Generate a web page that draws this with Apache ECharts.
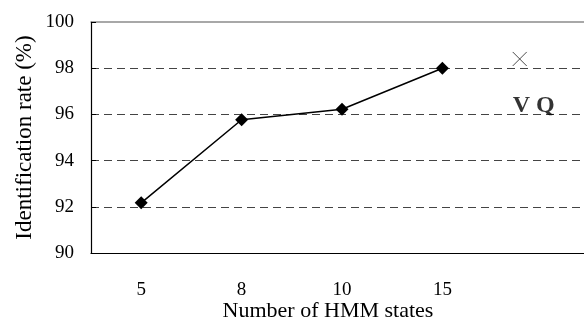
<!DOCTYPE html>
<html>
<head>
<meta charset="utf-8">
<script src="https://cdn.jsdelivr.net/npm/echarts@6/dist/echarts.min.js"></script>
<style>html,body{margin:0;padding:0;background:#fff;}#c{width:584px;height:322px;}</style>
</head>
<body>
<div id="c"></div>
<script>
const categories = ['5', '8', '10', '15', ''];
const rates = [92.17, 95.77, 96.22, 98.0];
const vqPosition = [4.27];
const vqRate = [98.4];
const vqLabel = 'V Q';
const yTicks = [90, 92, 94, 96, 98, 100];

const font = 'Liberation Serif';
const chart = echarts.init(document.getElementById('c'), null, {renderer: 'canvas'});
chart.setOption({
  backgroundColor: '#fff',
  animation: false,
  grid: {left: 91, right: -9, top: 22, bottom: 69, outerBoundsMode: 'none', containLabel: false},
  xAxis: [
    {
      type: 'category', data: categories, boundaryGap: true,
      name: 'Number of HMM states', nameLocation: 'middle', nameGap: 47, nameMoveOverlap: false,
      nameTextStyle: {fontFamily: font, fontSize: 22, color: '#000', padding: [0, 28, 0, 0]},
      axisLine: {lineStyle: {color: '#000', width: 1.2}},
      axisTick: {inside: true, length: 6, lineStyle: {color: '#000'}},
      axisLabel: {fontFamily: font, fontSize: 19, color: '#000', margin: 28},
      splitLine: {show: false}
    },
    {
      type: 'value', min: 0, max: 5, show: false
    },
    {
      type: 'category', data: categories, position: 'top',
      axisLine: {lineStyle: {color: '#8c8c8c', width: 1.5}},
      axisTick: {show: false}, axisLabel: {show: false}
    }
  ],
  yAxis: {
    type: 'value', min: yTicks[0], max: yTicks[yTicks.length - 1], interval: 2,
    name: 'Identification rate (%)', nameLocation: 'middle', nameGap: 55, nameMoveOverlap: false,
    nameTextStyle: {fontFamily: font, fontSize: 23, color: '#000'},
    axisLine: {show: true, lineStyle: {color: '#000', width: 1.2}},
    axisTick: {show: true, inside: true, length: 5, lineStyle: {color: '#000'}},
    axisLabel: {fontFamily: font, fontSize: 19, color: '#000', margin: 17},
    splitLine: {show: true, showMaxLine: false, showMinLine: false,
      lineStyle: {color: '#444', width: 1, type: [8, 5]}}
  },
  series: [
    {
      type: 'line', xAxisIndex: 0, data: rates,
      symbol: 'diamond', symbolSize: 13,
      lineStyle: {color: '#000', width: 1.5},
      itemStyle: {color: '#000'}
    },
    {
      type: 'scatter', xAxisIndex: 1,
      data: vqPosition.map((x, i) => [x, vqRate[i]]),
      symbol: 'path://M0,0L10,10M10,0L0,10', symbolSize: 14,
      itemStyle: {color: 'rgba(0,0,0,0)', borderColor: '#222', borderWidth: 1},
      label: {show: true, formatter: vqLabel, position: 'inside', offset: [14, 47],
        fontFamily: font, fontWeight: 'bold', fontSize: 24, color: '#000'}
    }
  ]
});
</script>
</body>
</html>
